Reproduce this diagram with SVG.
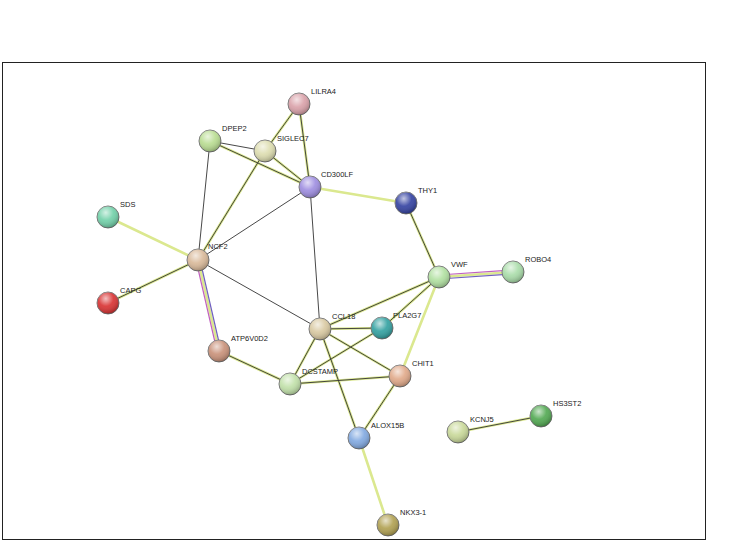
<svg xmlns="http://www.w3.org/2000/svg" width="729" height="543" viewBox="0 0 729 543">
<defs>
<radialGradient id="hl" cx="0.4" cy="0.3" r="0.7">
<stop offset="0" stop-color="#fff" stop-opacity="0.7"/>
<stop offset="0.5" stop-color="#fff" stop-opacity="0.1"/>
<stop offset="1" stop-color="#000" stop-opacity="0.25"/>
</radialGradient>
</defs>
<style>
.y{stroke:#dbe88f;stroke-width:2.6;fill:none}
.d{stroke:#333;stroke-width:0.9;fill:none}
.p{stroke:#c060c0;stroke-width:1.2;fill:none}
.b{stroke:#7060c0;stroke-width:1.2;fill:none}
.n circle.o{stroke:#777;stroke-width:1}
text{font-family:"Liberation Sans",Arial,sans-serif;font-size:7.5px;fill:#222}
</style>
<rect x="2.5" y="62.5" width="703" height="477" fill="#fff" stroke="#222" stroke-width="1"/>
<g id="connectors">
<path class="y" d="M299,104L265,151M299,104L310,187M210,141L310,187M265,151L310,187M265,151L198,260M310,187L406,203M406,203L439,277M108,217L198,260M108,303L198,260M198,260L219,351M439,277L513,272M439,277L320,329M439,277L382,328M439,277L400,376M320,329L382,328M320,329L290,384M320,329L400,376M320,329L359,438M382,328L290,384M219,351L290,384M290,384L400,376M400,376L359,438M359,438L388,525M458,432L541,416"/>
<path class="d" d="M299,104L265,151M299,104L310,187M210,141L265,151M210,141L310,187M265,151L310,187M210,141L198,260M265,151L198,260M310,187L198,260M310,187L320,329M406,203L439,277M108,303L198,260M198,260L320,329M439,277L320,329M439,277L382,328M320,329L382,328M320,329L290,384M320,329L400,376M320,329L359,438M382,328L290,384M219,351L290,384M290,384L400,376M400,376L359,438M458,432L541,416"/>
<path class="p" d="M196,260L217,351M439,275L513,270"/>
<path class="b" d="M200,260L221,351M439,279L513,274"/>
</g>
<g id="LILRA4" class="n"><circle class="o" cx="299" cy="104" r="11" fill="#d9a0a8"/><circle cx="299" cy="104" r="11" fill="url(#hl)"/><text x="311" y="94">LILRA4</text></g>
<g id="DPEP2" class="n"><circle class="o" cx="210" cy="141" r="11" fill="#b8dc90"/><circle cx="210" cy="141" r="11" fill="url(#hl)"/><text x="222" y="131">DPEP2</text></g>
<g id="SIGLEC7" class="n"><circle class="o" cx="265" cy="151" r="11" fill="#dcdcae"/><circle cx="265" cy="151" r="11" fill="url(#hl)"/><text x="277" y="141">SIGLEC7</text></g>
<g id="CD300LF" class="n"><circle class="o" cx="310" cy="187" r="11" fill="#9d8ce0"/><circle cx="310" cy="187" r="11" fill="url(#hl)"/><text x="321" y="177">CD300LF</text></g>
<g id="THY1" class="n"><circle class="o" cx="406" cy="203" r="11" fill="#3240a0"/><circle cx="406" cy="203" r="11" fill="url(#hl)"/><text x="418" y="193">THY1</text></g>
<g id="SDS" class="n"><circle class="o" cx="108" cy="217" r="11" fill="#70d0a8"/><circle cx="108" cy="217" r="11" fill="url(#hl)"/><text x="120" y="207">SDS</text></g>
<g id="NCF2" class="n"><circle class="o" cx="198" cy="260" r="11" fill="#d8b898"/><circle cx="198" cy="260" r="11" fill="url(#hl)"/><text x="208" y="249">NCF2</text></g>
<g id="VWF" class="n"><circle class="o" cx="439" cy="277" r="11" fill="#b0e0a0"/><circle cx="439" cy="277" r="11" fill="url(#hl)"/><text x="451" y="267">VWF</text></g>
<g id="ROBO4" class="n"><circle class="o" cx="513" cy="272" r="11" fill="#a8dca8"/><circle cx="513" cy="272" r="11" fill="url(#hl)"/><text x="525" y="262">ROBO4</text></g>
<g id="CAPG" class="n"><circle class="o" cx="108" cy="303" r="11" fill="#d83030"/><circle cx="108" cy="303" r="11" fill="url(#hl)"/><text x="120" y="293">CAPG</text></g>
<g id="CCL18" class="n"><circle class="o" cx="320" cy="329" r="11" fill="#d8c8a0"/><circle cx="320" cy="329" r="11" fill="url(#hl)"/><text x="332" y="319">CCL18</text></g>
<g id="PLA2G7" class="n"><circle class="o" cx="382" cy="328" r="11" fill="#30a0a0"/><circle cx="382" cy="328" r="11" fill="url(#hl)"/><text x="393" y="318">PLA2G7</text></g>
<g id="ATP6V0D2" class="n"><circle class="o" cx="219" cy="351" r="11" fill="#c89078"/><circle cx="219" cy="351" r="11" fill="url(#hl)"/><text x="231" y="341">ATP6V0D2</text></g>
<g id="DCSTAMP" class="n"><circle class="o" cx="290" cy="384" r="11" fill="#c0e0a8"/><circle cx="290" cy="384" r="11" fill="url(#hl)"/><text x="302" y="374">DCSTAMP</text></g>
<g id="CHIT1" class="n"><circle class="o" cx="400" cy="376" r="11" fill="#e0a888"/><circle cx="400" cy="376" r="11" fill="url(#hl)"/><text x="412" y="366">CHIT1</text></g>
<g id="ALOX15B" class="n"><circle class="o" cx="359" cy="438" r="11" fill="#80a8e0"/><circle cx="359" cy="438" r="11" fill="url(#hl)"/><text x="371" y="428">ALOX15B</text></g>
<g id="KCNJ5" class="n"><circle class="o" cx="458" cy="432" r="11" fill="#c8d898"/><circle cx="458" cy="432" r="11" fill="url(#hl)"/><text x="470" y="422">KCNJ5</text></g>
<g id="HS3ST2" class="n"><circle class="o" cx="541" cy="416" r="11" fill="#50a850"/><circle cx="541" cy="416" r="11" fill="url(#hl)"/><text x="553" y="406">HS3ST2</text></g>
<g id="NKX3-1" class="n"><circle class="o" cx="388" cy="525" r="11" fill="#b0a050"/><circle cx="388" cy="525" r="11" fill="url(#hl)"/><text x="400" y="515">NKX3-1</text></g>
</svg>
